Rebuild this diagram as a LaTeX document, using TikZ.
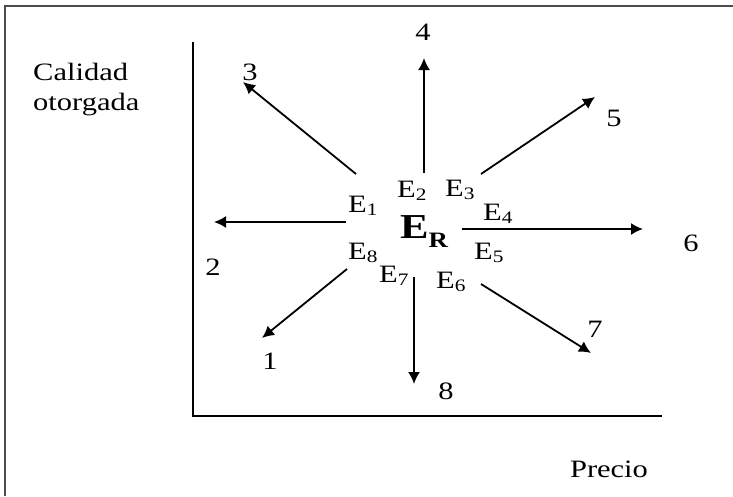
\documentclass[tikz,border=0pt]{standalone}
\usepackage{fontspec}
\usepackage{graphicx}
\setmainfont{Liberation Serif}
\newcommand{\stretchtxt}[1]{\scalebox{1.22}[1]{#1}}
\usetikzlibrary{arrows.meta}
\begin{document}
\begin{tikzpicture}[x=1pt,y=-1pt,
  txt/.style={inner sep=0pt,font=\fontsize{25}{30}\selectfont},
  elab/.style={inner sep=0pt,anchor=base west,font=\fontsize{25}{30}\selectfont},
  axisline/.style={line width=2.5pt,black},
  framel/.style={line width=2pt,black!70},
  vec/.style={line width=1.8pt,-{Latex[length=12pt,width=12pt]}}]
\useasboundingbox (0,0) rectangle (733,496);
% frame
\draw[framel] (733,6) -- (5,6) -- (5,496);
% axes
\coordinate (O) at (193,416);
\coordinate (Ytop) at (193,42);
\coordinate (Xend) at (662,416);
\draw[axisline] (Ytop) -- (O) -- (Xend);
% axis titles
\node[txt,anchor=base west] (cal) at (33,80) {\stretchtxt{Calidad}};
\node[txt,anchor=base west] (oto) at (33,110) {\stretchtxt{otorgada}};
\node[txt,anchor=base] (pre) at (609,477) {\stretchtxt{Precio}};
% central labels
\node[inner sep=0pt,anchor=base west] (ER) at (400,238)
  {\stretchtxt{{\fontsize{35}{40}\selectfont\bfseries E}{\fontsize{22}{26}\selectfont\bfseries\raisebox{-9pt}{R}}}};
\node[elab] (e1) at (348,212) {\stretchtxt{E\textsubscript{1}}};
\node[elab] (e2) at (397,197) {\stretchtxt{E\textsubscript{2}}};
\node[elab] (e3) at (445,196) {\stretchtxt{E\textsubscript{3}}};
\node[elab] (e4) at (483,220) {\stretchtxt{E\textsubscript{4}}};
\node[elab] (e5) at (474,259) {\stretchtxt{E\textsubscript{5}}};
\node[elab] (e6) at (436,288) {\stretchtxt{E\textsubscript{6}}};
\node[elab] (e7) at (379,282) {\stretchtxt{E\textsubscript{7}}};
\node[elab] (e8) at (348,259) {\stretchtxt{E\textsubscript{8}}};
% end labels
\node[txt] (n1) at (270,361) {\stretchtxt{1}};
\node[txt] (n2) at (213,267) {\stretchtxt{2}};
\node[txt] (n3) at (250,72) {\stretchtxt{3}};
\node[txt] (n4) at (423,32) {\stretchtxt{4}};
\node[txt] (n5) at (614,118) {\stretchtxt{5}};
\node[txt] (n6) at (691,243) {\stretchtxt{6}};
\node[txt] (n7) at (595,329) {\stretchtxt{7}};
\node[txt] (n8) at (446,391) {\stretchtxt{8}};
% arrow tails and tips
\coordinate (s1) at (347,269); \coordinate (t1) at (262,338);
\coordinate (s2) at (346,222); \coordinate (t2) at (214,222);
\coordinate (s3) at (356,174); \coordinate (t3) at (243,82);
\coordinate (s4) at (424,173); \coordinate (t4) at (424,58);
\coordinate (s5) at (481,174); \coordinate (t5) at (595,97);
\coordinate (s6) at (462,229); \coordinate (t6) at (643,229);
\coordinate (s7) at (481,284); \coordinate (t7) at (591,353);
\coordinate (s8) at (414,277); \coordinate (t8) at (414,384);
\foreach \i in {1,...,8} { \draw[vec] (s\i) -- (t\i); }
\end{tikzpicture}
\end{document}
